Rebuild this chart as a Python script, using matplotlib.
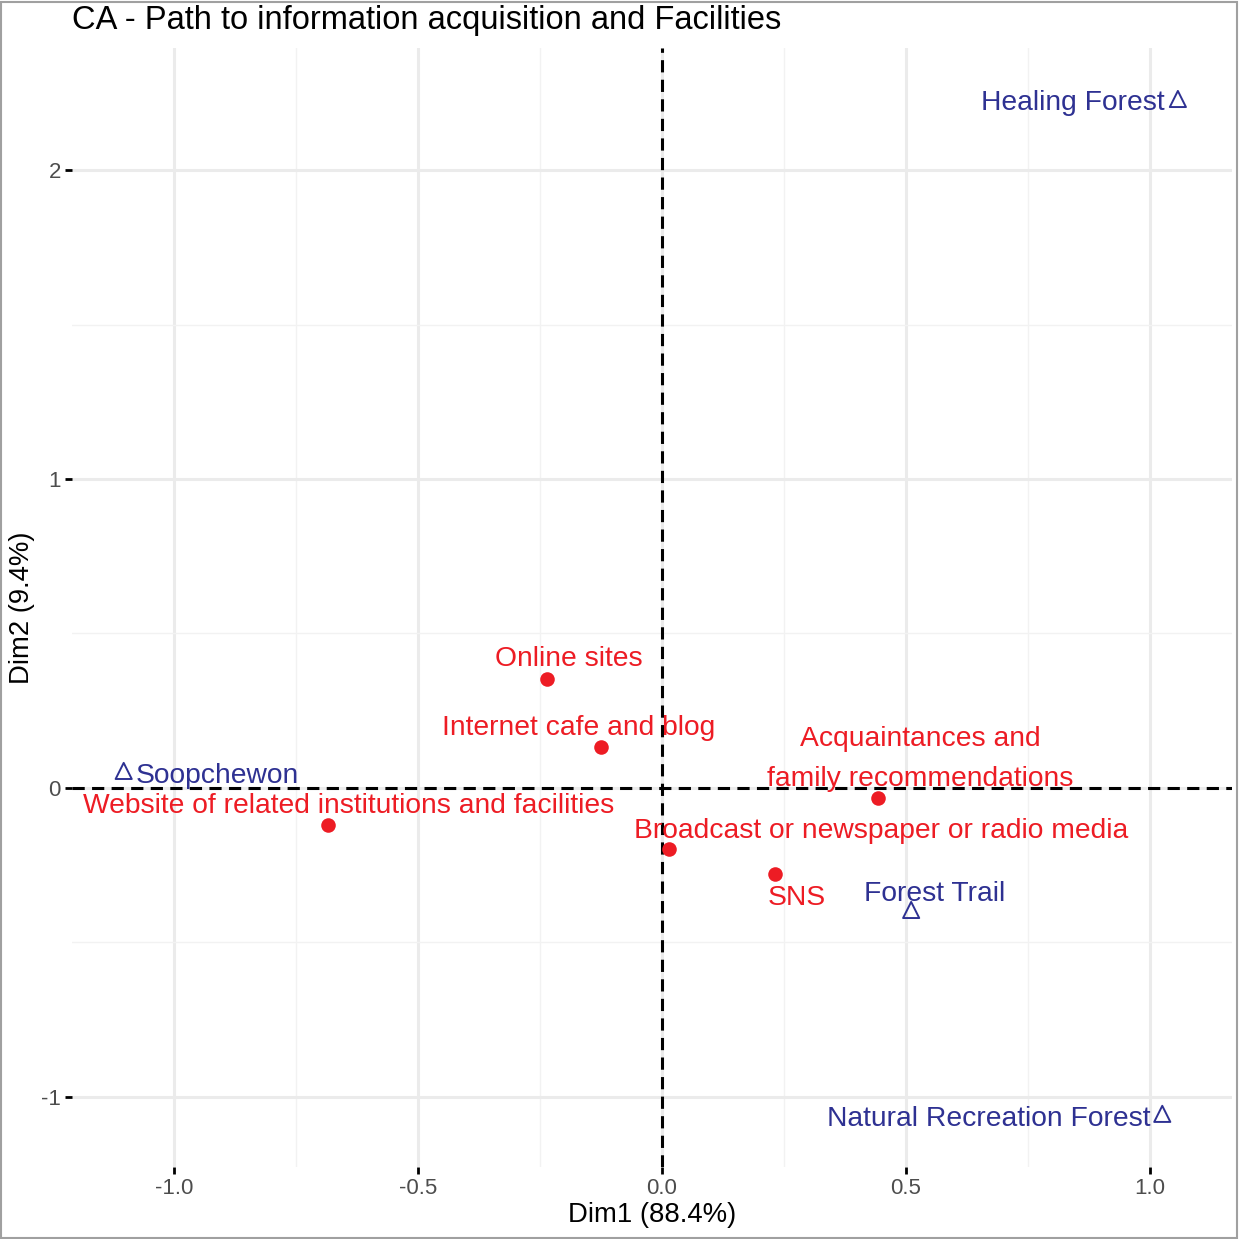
import matplotlib.pyplot as plt
from matplotlib.patches import Rectangle

plt.rcParams['font.family'] = ['Liberation Sans', 'DejaVu Sans']

# row points (information paths)
row_names = ['Online sites', 'Internet cafe and blog', 'Website of related institutions and facilities',
             'Acquaintances and\nfamily recommendations', 'Broadcast or newspaper or radio media', 'SNS']
row_x = [-0.236, -0.125, -0.685, 0.443, 0.014, 0.232]
row_y = [0.353, 0.133, -0.120, -0.032, -0.197, -0.278]

# column points (facilities)
col_names = ['Healing Forest', 'Soopchewon', 'Forest Trail', 'Natural Recreation Forest']
col_x = [1.058, -1.104, 0.511, 1.026]
col_y = [2.230, 0.055, -0.395, -1.055]

# label offsets in pixels (repel-like placement)
row_off = [(22, 20), (-22, 19), (21, 19), (42, 39), (212, 18), (22, -24)]
col_off = [(-13, -4), (12, -5), (23, 16), (-12, -5)]
col_ha = ['right', 'left', 'center', 'right']

red = '#ED1C24'
navy = '#2E3192'
lab_size = 20.3

fig = plt.figure(figsize=(12.39, 12.39), dpi=100)
ax = fig.add_axes([72 / 1239, 1 - 1167 / 1239, (1232 - 72) / 1239, (1167 - 48) / 1239])

ax.set_xlim(-1.21, 1.169)
ax.set_ylim(-1.227, 2.395)

ax.set_xticks([-1.0, -0.5, 0.0, 0.5, 1.0])
ax.set_xticklabels(['-1.0', '-0.5', '0.0', '0.5', '1.0'])
ax.set_yticks([-1, 0, 1, 2])
ax.set_yticklabels(['-1', '0', '1', '2'])
ax.set_xticks([-0.75, -0.25, 0.25, 0.75], minor=True)
ax.set_yticks([-0.5, 0.5, 1.5], minor=True)
ax.grid(True, which='major', color='#EBEBEB', linewidth=2.2)
ax.grid(True, which='minor', color='#F2F2F2', linewidth=1.0)
ax.set_axisbelow(True)
for s in ax.spines.values():
    s.set_visible(False)
ax.tick_params(which='major', length=5, width=2, color='black', labelsize=16, labelcolor='#4D4D4D', pad=3)
ax.tick_params(which='minor', length=0)

ax.axhline(0, color='black', linestyle=(0, (4, 2.4)), linewidth=2.2, zorder=2)
ax.axvline(0, color='black', linestyle=(0, (4, 2.4)), linewidth=2.2, zorder=2)

ax.scatter(row_x, row_y, s=110, color=red, zorder=3, linewidths=0)
for name, x, y, off in zip(row_names, row_x, row_y, row_off):
    ax.annotate(name, (x, y), xytext=off, textcoords='offset pixels', ha='center', va='center',
                color=red, fontsize=lab_size, linespacing=1.72, zorder=4)

ax.scatter(col_x, col_y, s=135, marker='^', facecolors='none', edgecolors=navy, linewidths=1.4, zorder=3)
for name, x, y, off, ha in zip(col_names, col_x, col_y, col_off, col_ha):
    ax.annotate(name, (x, y), xytext=off, textcoords='offset pixels', ha=ha, va='center',
                color=navy, fontsize=lab_size, zorder=4)

ax.set_xlabel('Dim1 (88.4%)', fontsize=19.8, labelpad=2)
ax.set_ylabel('Dim2 (9.4%)', fontsize=19.8, labelpad=4)
fig.text(72 / 1239, 1 - 21 / 1239, 'CA - Path to information acquisition and Facilities',
         fontsize=23.5, ha='left', va='center')

fig.patches.append(Rectangle((0.001, 0.001), 0.997, 0.997, transform=fig.transFigure,
                             fill=False, edgecolor='#A0A0A0', linewidth=1.5))

fig.savefig('out.png', dpi=100)
